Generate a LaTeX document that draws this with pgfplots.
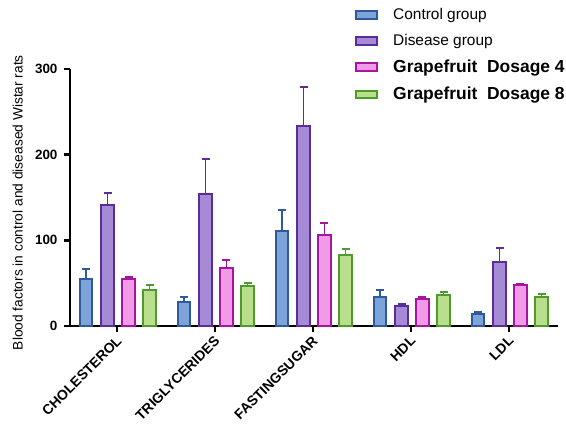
\documentclass[border=0pt]{standalone}
\usepackage{fontspec}
\setmainfont{Liberation Sans}
\usepackage{pgfplots}
\pgfplotsset{compat=1.18}

\definecolor{ctlfill}{HTML}{7DA4D8}
\definecolor{ctldraw}{HTML}{2E5A9C}
\definecolor{disfill}{HTML}{A58AD6}
\definecolor{disdraw}{HTML}{5A2D99}
\definecolor{gfafill}{HTML}{F09AE8}
\definecolor{gfadraw}{HTML}{A4169E}
\definecolor{gfbfill}{HTML}{BADF8C}
\definecolor{gfbdraw}{HTML}{4F9A2C}

% bars sit at category + offset, so error bars land on them
\pgfplotsset{
  grp/.style 2 args={
    ybar, bar width=0.13, bar shift=0,
    fill=#1, draw=#2, line width=2.1bp,
    error bars/.cd, y dir=plus, y explicit,
    error bar style={color=#2, line width=1.8bp},
    error mark options={color=#2, rotate=90, mark size=4bp, line width=1.8bp},
  },
}

\begin{document}
\begin{tikzpicture}
\useasboundingbox (-70bp,-99bp) rectangle (496bp,326bp);
\begin{axis}[
  scale only axis, width=488bp, height=257bp,
  xmin=-0.48, xmax=4.5, ymin=0, ymax=300,
  axis x line=bottom, axis y line=left,
  axis line style={line width=2.6bp, -},
  xtick={0,1,2,3,4},
  xticklabels={CHOLESTEROL,TRIGLYCERIDES,FASTINGSUGAR,HDL,LDL},
  ytick={0,100,200,300},
  tick align=outside, major tick length=6bp,
  tick style={line width=2.4bp, black},
  /pgf/number format/assume math mode=true,
  yticklabel style={font=\fontsize{13.5}{16}\selectfont\bfseries, xshift=-3bp},
  xticklabel style={font=\fontsize{14}{17}\selectfont\bfseries, rotate=45, anchor=north east, inner sep=1bp, xshift=-2bp},
  ylabel={Blood factors in control and diseased Wistar rats},
  ylabel style={font=\fontsize{13.8}{16}\selectfont, at={(axis description cs:-0.107,0.48)}, anchor=center},
  legend image code/.code={\draw[#1, line width=2bp] (0bp,-3.8bp) rectangle (21bp,3.8bp);},
  legend style={draw=none, fill=none, at={(0.584,1.235)}, anchor=north west,
    font=\fontsize{15.5}{18}\selectfont, row sep=13bp, column sep=0bp, inner sep=0pt,
    nodes={inner sep=0pt}},
  legend cell align=left,
]
\addplot[grp={ctlfill}{ctldraw}] coordinates {
  (-0.316,55.3) +- (0,11.7)
  (0.684,28.4) +- (0,5.8)
  (1.684,111.0) +- (0,24.4)
  (2.684,33.9) +- (0,8.1)
  (3.684,14.4) +- (0,1.9)
};
\addlegendentry{\hspace{15bp}Control group}
\addplot[grp={disfill}{disdraw}] coordinates {
  (-0.097,141.6) +- (0,13.4)
  (0.903,154.5) +- (0,40.5)
  (1.903,233.5) +- (0,45.9)
  (2.903,23.0) +- (0,2.7)
  (3.903,74.3) +- (0,16.4)
};
\addlegendentry{\hspace{15bp}Disease group}
\addplot[grp={gfafill}{gfadraw}] coordinates {
  (0.117,54.5) +- (0,3.1)
  (1.117,67.3) +- (0,10.1)
  (2.117,105.8) +- (0,14.8)
  (3.117,31.1) +- (0,2.4)
  (4.117,47.5) +- (0,1.1)
};
\addlegendentry{\hspace{15bp}\fontsize{17.5}{20}\selectfont\bfseries Grapefruit\ \ Dosage 4}
\addplot[grp={gfbfill}{gfbdraw}] coordinates {
  (0.332,41.6) +- (0,6.3)
  (1.332,47.0) +- (0,2.8)
  (2.332,82.9) +- (0,7.4)
  (3.332,36.2) +- (0,3.8)
  (4.332,33.9) +- (0,3.1)
};
\addlegendentry{\hspace{15bp}\fontsize{17.5}{20}\selectfont\bfseries Grapefruit\ \ Dosage 8}
\end{axis}
\end{tikzpicture}
\end{document}
